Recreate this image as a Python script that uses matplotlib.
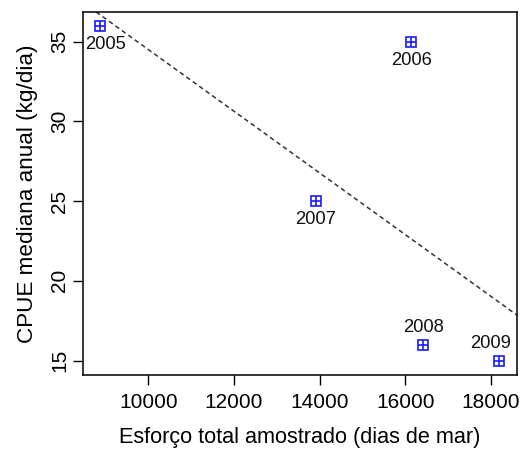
import numpy as np
import matplotlib
matplotlib.use("Agg")
import matplotlib.pyplot as plt

plt.rcParams["font.family"] = ["Liberation Sans", "DejaVu Sans"]

# Esforço total amostrado (dias de mar) vs CPUE mediana anual
years = ["2005", "2006", "2007", "2008", "2009"]
esforco = [8880, 16140, 13910, 16420, 18190]
cpue = [36, 35, 25, 16, 15]
label_below = [True, True, True, False, False]

fig = plt.figure(figsize=(5.2, 4.5), dpi=100)
ax = fig.add_axes([0.16, 0.167, 0.834, 0.806])

# regression line across the whole x range
slope, intercept = np.polyfit(esforco, cpue, 1)
xlim = (8480, 18610)
xs = np.array(xlim)
ax.plot(xs, intercept + slope * xs, color="#333333", linestyle=(0, (3, 2.2)),
        linewidth=1.1, zorder=1)

# square-with-cross markers
ax.plot(esforco, cpue, linestyle="none", marker="s", markersize=7,
        markerfacecolor="none", markeredgecolor="#1a1aff", markeredgewidth=1.2, zorder=3)
ax.plot(esforco, cpue, linestyle="none", marker="+", markersize=7,
        markeredgecolor="#1a1aff", markeredgewidth=1.2, zorder=3)

# small horizontal nudges so labels stay inside the box
nudge = [4, 0, 0, 0, -6]
for x, y, lab, below, dx in zip(esforco, cpue, years, label_below, nudge):
    ax.annotate(lab, (x, y), xytext=(dx, -13.5 if below else 12.5), textcoords="offset points",
                ha="center", va="center", fontsize=13.2, color="#111111")

ax.set_xlim(*xlim)
ax.set_ylim(14.1, 36.85)
ax.set_xticks([10000, 12000, 14000, 16000, 18000])
ax.set_yticks([15, 20, 25, 30, 35])
ax.tick_params(direction="out", length=7, width=1, labelsize=15)
ax.tick_params(axis="x", pad=6)
ax.tick_params(axis="y", pad=3)
for t in ax.get_yticklabels():
    t.set_rotation(90)
    t.set_va("center")

ax.set_xlabel("Esforço total amostrado (dias de mar)", fontsize=15.6, labelpad=11)
ax.set_ylabel("CPUE mediana anual (kg/dia)", fontsize=16.2, labelpad=9)
for s in ax.spines.values():
    s.set_linewidth(1.1)

fig.savefig("out.png", dpi=100)
